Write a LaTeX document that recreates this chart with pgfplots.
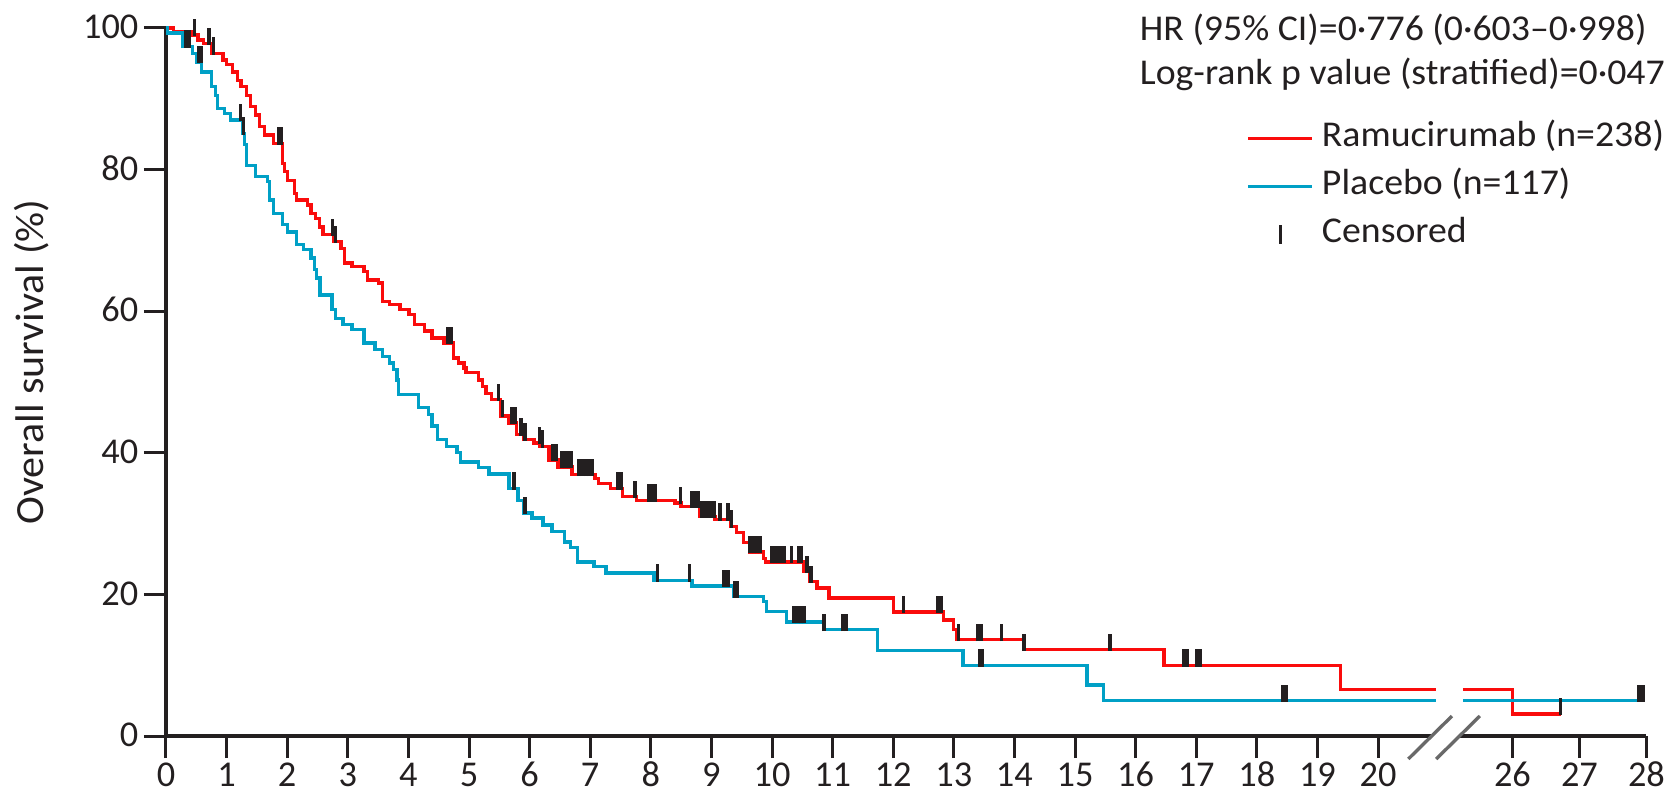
\documentclass[border=0pt]{standalone}
\usepackage{fontspec}
\setmainfont{Carlito}
\newfontfamily\lblfont{Carlito}[FakeStretch=1.04]
\newfontfamily\ylfont{Carlito}[FakeStretch=1.05]
\usepackage{pgfplots}
\pgfplotsset{compat=1.18}

\definecolor{ramu}{RGB}{250,12,12}
\definecolor{plac}{RGB}{0,160,198}
\definecolor{ink}{RGB}{35,31,32}
\definecolor{brk}{RGB}{105,105,105}

% censoring tick: short vertical stroke rising from the curve
\pgfdeclareplotmark{cens}{%
  \pgfpathmoveto{\pgfqpoint{0pt}{-0.4pt}}%
  \pgfpathlineto{\pgfqpoint{0pt}{4.8pt}}%
  \pgfusepathqstroke}

\begin{document}
\begin{tikzpicture}[font=\fontsize{10.9}{13}\selectfont, text=ink]
\begin{axis}[
  scale only axis, width=444.12pt, height=212.4pt,
  xmin=0, xmax=24.429, ymin=0, ymax=100,
  axis lines=left,
  axis line style={-, line width=1pt, draw=ink},
  clip=false,
  xtick={0,1,2,3,4,5,6,7,8,9,10,11,12,13,14,15,16,17,18,19,20,22.218,23.324,24.429},
  xticklabels={0,1,2,3,4,5,6,7,8,9,10,11,12,13,14,15,16,17,18,19,20,26,27,28},
  ytick={0,20,40,60,80,100},
  tick align=outside, major tick length=6.6pt,
  tick style={line width=0.9pt, draw=ink},
  /pgf/number format/assume math mode=true,
  tick label style={text=ink},
  xticklabel style={anchor=north, inner sep=0pt, text height=0.64em, text depth=0pt, yshift=-1.8pt},
  yticklabel style={anchor=east, inner sep=0pt, text height=0.64em, text depth=0pt, xshift=-1.5pt},
  ylabel={\ylfont\fontsize{12}{14}\selectfont Overall survival (\%)},
  every axis y label/.style={at={(rel axis cs:0,0.5)}, rotate=90, anchor=center, yshift=40.2pt, xshift=6pt},
  legend style={at={(0.7295,0.776)}, anchor=west, draw=none, fill=none,
    inner sep=0pt, row sep=4.4pt, column sep=2.4pt,
    font=\lblfont\fontsize{10.9}{13}\selectfont,
    nodes={inner sep=0pt, text height=0.75em, text depth=0.25em}},
  legend cell align=left,
]
% Ramucirumab, months 0-20
\addplot[const plot, color=ramu, line width=1pt,
  legend image code/.code={\draw[ramu, line width=1pt] (0pt,0pt) -- (19.2pt,0pt);}]
  coordinates {
  (0,100) (0.12,99.5) (0.44,99.0) (0.53,98.3) (0.62,97.8) (0.76,96.4) (0.94,95.5)
  (1.00,94.8) (1.10,93.8) (1.18,92.6) (1.24,91.7) (1.33,90.5) (1.39,88.9) (1.48,87.7)
  (1.54,86.1) (1.62,84.9) (1.77,83.7) (1.92,80.9) (1.95,79.7) (2.00,78.5) (2.12,76.6)
  (2.15,75.7) (2.33,75.0) (2.39,73.8) (2.47,73.1) (2.53,71.9) (2.59,70.8) (2.77,69.8)
  (2.89,68.9) (2.95,66.8) (3.07,66.3) (3.27,65.6) (3.33,64.4) (3.51,64.0) (3.57,61.4)
  (3.69,60.9) (3.86,60.2) (4.01,59.5) (4.10,58.1) (4.27,57.2) (4.39,56.2) (4.59,55.5)
  (4.74,53.4) (4.83,52.7) (4.92,52.0) (4.95,51.3) (5.16,50.3) (5.22,49.4) (5.28,48.4)
  (5.37,47.5) (5.52,45.2) (5.66,44.2) (5.78,42.6) (5.90,41.9) (6.07,41.4) (6.17,40.9)
  (6.32,39.0) (6.47,38.0) (6.70,36.9) (7.08,36.4) (7.14,35.7) (7.33,35.0) (7.53,33.8)
  (7.76,33.3) (8.40,32.9) (8.50,32.4) (8.80,31.0) (9.06,30.6) (9.32,29.6) (9.41,28.7)
  (9.53,27.3) (9.63,26.0) (9.86,25.1) (9.89,24.6) (10.53,23.2) (10.62,21.8) (10.74,20.9)
  (10.94,19.5) (12.01,17.5) (12.83,16.4) (13.00,15.0) (13.04,13.6) (14.16,12.2)
  (16.47,10.0) (19.38,6.6) (20.96,6.6)
  };
\addlegendentry{Ramucirumab (n=238)}
% Placebo, months 0-20
\addplot[const plot, color=plac, line width=1pt,
  legend image code/.code={\draw[plac, line width=1pt] (0pt,0pt) -- (19.2pt,0pt);}]
  coordinates {
  (0,100) (0.03,99.3) (0.27,97.4) (0.44,96.4) (0.50,95.2) (0.59,93.8) (0.75,91.7)
  (0.82,90.5) (0.85,88.6) (0.97,87.9) (1.06,87.0) (1.27,85.1) (1.30,83.5) (1.33,80.6)
  (1.48,79.0) (1.68,78.3) (1.71,75.7) (1.77,73.8) (1.92,72.2) (2.00,71.2) (2.15,69.4)
  (2.27,68.7) (2.39,67.5) (2.45,65.9) (2.48,64.7) (2.54,62.3) (2.74,60.2) (2.80,59.0)
  (2.92,58.1) (3.07,57.4) (3.27,55.5) (3.45,54.6) (3.57,53.6) (3.69,52.7) (3.75,51.8)
  (3.81,50.3) (3.84,48.2) (4.17,46.4) (4.33,45.4) (4.39,43.8) (4.48,41.9) (4.63,40.9)
  (4.80,40.0) (4.86,38.7) (5.16,37.9) (5.33,37.0) (5.66,35.0) (5.81,33.3) (5.90,31.5)
  (6.04,30.8) (6.22,29.8) (6.37,28.9) (6.58,27.4) (6.67,26.6) (6.79,24.6) (7.06,23.9)
  (7.26,23.0) (8.05,22.0) (8.68,21.2) (9.36,19.7) (9.86,19.0) (9.91,17.6) (10.24,16.1)
  (10.86,15.0) (11.74,12.1) (13.15,10.0) (15.20,7.2) (15.47,5.0) (20.96,5.0)
  };
\addlegendentry{Placebo (n=117)}
% censored patients, ramucirumab arm
\addplot[only marks, mark=cens, mark options={draw=ink, line width=1.05pt},
  legend image code/.code={\draw[ink, line width=0.9pt] (9.6pt,-2.8pt) -- (9.6pt,2.8pt);}]
  coordinates {
  (0.47,99.0) (0.71,97.8) (0.78,96.4) (1.86,83.7) (1.91,83.7) (2.75,70.8) (2.80,69.8)
  (4.65,55.5) (4.70,55.5) (5.49,47.5) (5.55,45.2) (5.71,44.2) (5.77,44.2) (5.86,42.6)
  (5.92,41.9) (6.16,41.4) (6.21,40.9) (6.39,39.0) (6.44,39.0) (6.53,38.0) (6.585,38.0)
  (6.64,38.0) (6.69,38.0) (6.81,36.9) (6.865,36.9) (6.92,36.9) (6.975,36.9) (7.03,36.9)
  (7.45,35.0) (7.505,35.0) (7.74,33.8) (7.96,33.3) (8.015,33.3) (8.07,33.3) (8.49,32.9)
  (8.67,32.4) (8.725,32.4) (8.78,32.4) (8.84,31.0) (8.895,31.0) (8.95,31.0) (9.005,31.0)
  (9.045,31.0) (9.14,30.6) (9.27,30.6) (9.33,29.6) (9.64,26.0) (9.695,26.0) (9.75,26.0)
  (9.805,26.0) (9.99,24.6) (10.045,24.6) (10.10,24.6) (10.155,24.6) (10.20,24.6)
  (10.32,24.6) (10.44,24.6) (10.49,24.6) (10.58,23.2) (10.64,21.8) (12.17,17.5)
  (12.74,17.5) (12.80,17.5) (13.08,13.6) (13.39,13.6) (13.45,13.6) (13.79,13.6)
  (14.16,12.2) (15.58,12.2) (16.80,10.0) (16.85,10.0) (17.01,10.0) (17.06,10.0)
  (23.014,3.1)
  };
\addlegendentry{Censored}
% censored patients, placebo arm
\addplot[only marks, mark=cens, mark options={draw=ink, line width=1.05pt}, forget plot]
  coordinates {
  (0.33,97.4) (0.39,97.4) (0.54,95.2) (0.58,95.2) (1.23,87.0) (1.28,85.1) (5.74,35.0)
  (5.92,31.5) (8.11,22.0) (8.64,22.0) (9.21,21.2) (9.27,21.2) (9.38,19.7) (9.43,19.7)
  (10.36,16.1) (10.415,16.1) (10.47,16.1) (10.525,16.1) (10.86,15.0) (11.17,15.0)
  (11.22,15.0) (13.42,10.0) (13.47,10.0) (18.43,5.0) (18.48,5.0) (24.31,5.0) (24.37,5.0)
  };
% months 26-28 after the axis break
\addplot[const plot, color=ramu, line width=1pt, forget plot]
  coordinates {(21.40,6.6) (22.218,3.1) (23.014,3.1)};
\addplot[const plot, color=plac, line width=1pt, forget plot]
  coordinates {(21.40,5.0) (24.37,5.0)};

% axis break
\fill[white] (axis cs:20.62,-2.3) -- (axis cs:21.16,2.3) -- (axis cs:21.62,2.3) -- (axis cs:21.08,-2.3) -- cycle;
\draw[brk, line width=1pt] (axis cs:20.50,-3.25) -- (axis cs:21.22,2.82);
\draw[brk, line width=1pt] (axis cs:20.96,-3.25) -- (axis cs:21.68,2.82);

% statistics
\node[anchor=west, inner sep=0pt, font=\lblfont\fontsize{10.9}{13}\selectfont] at (axis cs:16.06,99.7) {HR (95\% CI)=0·776 (0·603–0·998)};
\node[anchor=west, inner sep=0pt, font=\lblfont\fontsize{10.9}{13}\selectfont] at (axis cs:16.06,93.5) {Log-rank p value (stratified)=0·047};

\coordinate (O) at (rel axis cs:0,0);
\end{axis}
\pgfresetboundingbox
\path (O) ++(-49.8pt,-17.7pt) rectangle ++(500.4pt,238.5pt);
\end{tikzpicture}
\end{document}
